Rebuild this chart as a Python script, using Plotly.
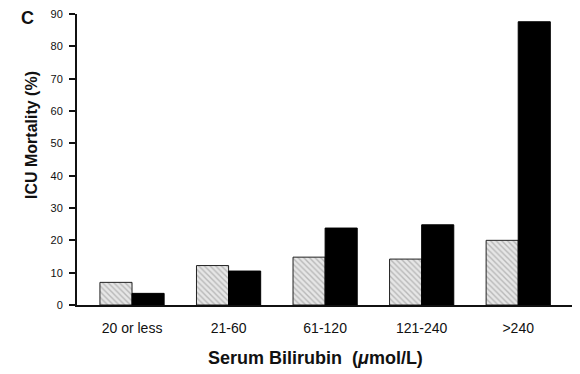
import plotly.graph_objects as go

categories = ["20 or less", "21-60", "61-120", "121-240", ">240"]
hatched_values = [7.0, 12.2, 14.8, 14.2, 20.0]
black_values = [3.6, 10.5, 23.8, 24.8, 87.6]
y_ticks = [0, 10, 20, 30, 40, 50, 60, 70, 80, 90]

FONT = "Liberation Sans, Arial, sans-serif"

# page body has an 8px default margin, so the figure is 8px smaller
W, H = 572, 366
ML, MR, MT, MB = 69, 0, 6, 69
PL, PR, PT, PB = 77, 580, 14, 305  # plot-area edges in window pixels


def px(wx):
    return (wx - PL) / (PR - PL)


def py(wy):
    return (PB - wy) / (PB - PT)


fig = go.Figure()
fig.add_trace(go.Bar(
    x=categories, y=hatched_values,
    marker=dict(color="#e2e2e2",
                line=dict(color="#222", width=1),
                pattern=dict(shape="\\", fgcolor="#8a8a8a", bgcolor="#e6e6e6",
                             size=4, solidity=0.35)),
    showlegend=False,
))
fig.add_trace(go.Bar(
    x=categories, y=black_values,
    marker=dict(color="#000", line=dict(color="#000", width=1)),
    showlegend=False,
))

fig.update_layout(
    width=W, height=H,
    margin=dict(l=ML, r=MR, t=MT, b=MB, pad=0),
    paper_bgcolor="white", plot_bgcolor="white",
    barmode="group", bargap=0.335, bargroupgap=0,
    font=dict(family=FONT, color="#111", size=11),
    xaxis=dict(range=[-0.57, 4.64], showline=True, linecolor="#111", linewidth=2,
               ticks="", showgrid=False, zeroline=False, ticklabelstandoff=9,
               tickfont=dict(size=14, color="#111")),
    yaxis=dict(range=[0, 90], tickvals=y_ticks, showline=True, linecolor="#111",
               linewidth=2, ticks="outside", ticklen=6, tickwidth=1.5,
               tickcolor="#111", showgrid=False, zeroline=False,
               ticklabelstandoff=4, ticklabeloverflow="allow",
               tickfont=dict(size=11, color="#111")),
    annotations=[
        dict(text="<b>C</b>", x=px(27), y=py(18), xref="paper", yref="paper",
             showarrow=False, font=dict(size=18, color="#111")),
        dict(text="<b>ICU Mortality (%)</b>", x=px(32), y=py(135), xref="paper",
             yref="paper", textangle=-90, showarrow=False,
             font=dict(size=16, color="#111")),
        dict(text="<b>Serum Bilirubin&nbsp;&nbsp;(<i>μ</i>mol/L)</b>", x=px(315),
             y=py(358), xref="paper", yref="paper", showarrow=False,
             font=dict(size=18, color="#111")),
    ],
)
for a in fig.layout.annotations:
    a.xanchor = "center"
    a.yanchor = "middle"

fig.write_html("out.html")
